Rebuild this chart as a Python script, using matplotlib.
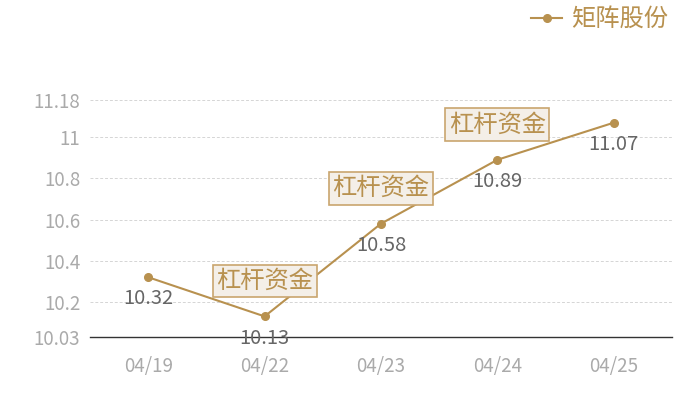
import matplotlib.pyplot as plt

plt.rcParams['font.family'] = ['Noto Sans CJK SC', 'DejaVu Sans']

dates = ['04/19', '04/22', '04/23', '04/24', '04/25']
prices = [10.32, 10.13, 10.58, 10.89, 11.07]
marked = [False, True, True, True, False]
y_ticks = [10.03, 10.2, 10.4, 10.6, 10.8, 11, 11.18]
y_tick_labels = ['10.03', '10.2', '10.4', '10.6', '10.8', '11', '11.18']
series_name = '矩阵股份'
mark_text = '杠杆资金'

gold = '#b8914f'

fig = plt.figure(figsize=(7, 4), dpi=100)
ax = fig.add_axes([90 / 700, 1 - 337 / 400, 582 / 700, 237 / 400])

x = list(range(len(dates)))
line, = ax.plot(x, prices, color=gold, lw=1.5, marker='o', ms=5.5,
                label=series_name, zorder=3)

for xi, yi, m in zip(x, prices, marked):
    ax.annotate(f'{yi:.2f}', (xi, yi), xytext=(0, -8), textcoords='offset points',
                ha='center', va='top', fontsize=14.5, color='#666666', zorder=5)
    if m:
        ax.annotate(mark_text, (xi, yi), xytext=(0, 25.5), textcoords='offset points',
                    ha='center', va='center', fontsize=17.5, color=gold, zorder=6,
                    bbox=dict(boxstyle='square,pad=0.14', fc='#f4efe8',
                              ec='#c9a56e', lw=1.2))

ax.set_xlim(-0.5, len(dates) - 0.5)
ax.set_ylim(10.03, 11.18)
ax.set_xticks(x)
ax.set_xticklabels(dates)
ax.set_yticks(y_ticks)
ax.set_yticklabels(y_tick_labels)
ax.tick_params(length=0, colors='#aaaaaa', labelsize=13.5)
ax.tick_params(axis='x', pad=14)
ax.tick_params(axis='y', pad=7)

ax.grid(axis='y', color='#d5d5d5', ls=(0, (3, 2)), lw=0.7)
for s in ['top', 'right', 'left']:
    ax.spines[s].set_visible(False)
ax.spines['bottom'].set_color('#333333')
ax.spines['bottom'].set_linewidth(1)
ax.spines['bottom'].set_zorder(4)

leg = fig.legend(handles=[line], loc='upper right', bbox_to_anchor=(0.975, 1.02),
                 frameon=False, fontsize=17.5, handlelength=1.3, handletextpad=0.35,
                 borderaxespad=0.2)
for t in leg.get_texts():
    t.set_color(gold)

fig.savefig('out.png', dpi=100)
